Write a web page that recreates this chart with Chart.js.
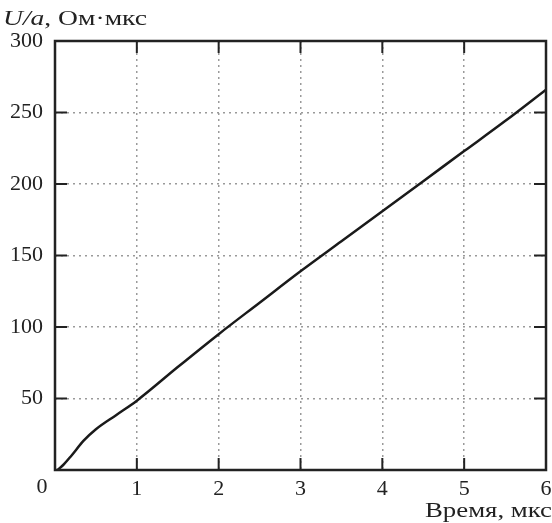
<!DOCTYPE html>
<html>
<head>
<meta charset="utf-8">
<script src="https://cdn.jsdelivr.net/npm/chart.js@4/dist/chart.umd.min.js"></script>
<style>
  html, body { margin: 0; padding: 0; background: #fff; }
  #wrap { width: 552px; height: 523px; position: relative; }
</style>
</head>
<body>
<div id="wrap"><canvas id="chart" width="552" height="523"></canvas></div>
<script>
// U/a versus time curve
const timeUs = [0.03, 0.1, 0.2, 0.35, 0.5, 0.75, 1.0, 1.5, 2.0, 2.5, 3.0, 3.5, 4.0, 4.5, 5.0, 5.5, 6.0];
const uOverA = [0, 3.5, 10, 20.5, 28.5, 38.5, 48.5, 72, 95, 117, 139, 160, 181, 202, 223, 244, 266];
const xTicks = [0, 1, 2, 3, 4, 5, 6];
const yTicks = [0, 50, 100, 150, 200, 250, 300];

const serif = "'Liberation Serif', 'DejaVu Serif', serif";

// text stretched to a given width (the scan's type is wider than Liberation)
function wideText(ctx, parts, x, y, width, align){
  let w = 0;
  for (const p of parts){ ctx.font = p.font; w += ctx.measureText(p.text).width; }
  const k = width / w;
  ctx.save();
  ctx.translate(align === "right" ? x - width : x, y);
  ctx.scale(k, 1);
  ctx.textAlign = "left";
  let cx = 0;
  for (const p of parts){
    ctx.font = p.font;
    ctx.fillText(p.text, cx, 0);
    cx += ctx.measureText(p.text).width;
  }
  ctx.restore();
}

// frame, inward tick marks and the extra labels
const framePlugin = {
  id: "frame",
  afterDraw(chart){
    const { ctx, chartArea: a, scales } = chart;
    ctx.save();
    ctx.strokeStyle = "#222";
    ctx.lineWidth = 2;
    ctx.beginPath();
    for (const v of xTicks.slice(1, -1)){
      const px = scales.x.getPixelForValue(v);
      ctx.moveTo(px, a.bottom); ctx.lineTo(px, a.bottom - 12);
      ctx.moveTo(px, a.top); ctx.lineTo(px, a.top + 12);
    }
    for (const v of yTicks.slice(1, -1)){
      const py = scales.y.getPixelForValue(v);
      ctx.moveTo(a.left, py); ctx.lineTo(a.left + 12, py);
      ctx.moveTo(a.right, py); ctx.lineTo(a.right - 12, py);
    }
    ctx.stroke();
    ctx.lineWidth = 2.5;
    ctx.strokeRect(a.left, a.top, a.right - a.left, a.bottom - a.top);

    ctx.fillStyle = "#222";
    ctx.textBaseline = "alphabetic";
    ctx.font = "22px " + serif;
    ctx.textAlign = "center";
    ctx.fillText("0", a.left - 13, 493);
    wideText(ctx, [{ text: "Время, мкс", font: "22px " + serif }], 552, 517, 127, "right");
    wideText(ctx, [
      { text: "U/a", font: "italic 22px " + serif },
      { text: ", Ом·мкс", font: "22px " + serif }
    ], 3, 25, 144, "left");
    ctx.restore();
  }
};

new Chart(document.getElementById("chart"), {
  type: "line",
  data: {
    datasets: [{
      data: timeUs.map((t, i) => ({ x: t, y: uOverA[i] })),
      borderColor: "#1a1a1a",
      borderWidth: 2.5,
      pointRadius: 0,
      cubicInterpolationMode: "monotone",
      fill: false
    }]
  },
  options: {
    responsive: false,
    animation: false,
    layout: { padding: { top: 41, right: 6, left: 0, bottom: 0 } },
    plugins: { legend: { display: false }, tooltip: { enabled: false } },
    scales: {
      x: {
        type: "linear", min: 0, max: 6,
        afterBuildTicks: s => { s.ticks = xTicks.map(v => ({ value: v })); },
        afterFit: s => { s.height = 53; s.paddingLeft = 0; s.paddingRight = 0; },
        border: { display: false, dash: [2, 4] },
        grid: {
          drawTicks: false,
          color: c => (c.tick.value === 0 || c.tick.value === 6) ? "rgba(0,0,0,0)" : "#9a9a9a",
          lineWidth: 1.5
        },
        ticks: {
          padding: 6,
          color: "#222",
          font: { family: serif, size: 22 },
          callback: v => v === 0 ? "" : String(v)
        }
      },
      y: {
        type: "linear", min: 0, max: 300,
        afterBuildTicks: s => { s.ticks = yTicks.map(v => ({ value: v })); },
        afterFit: s => { s.width = 55; s.paddingTop = 0; s.paddingBottom = 0; },
        border: { display: false, dash: [2, 4] },
        grid: {
          drawTicks: false,
          color: c => (c.tick.value === 0 || c.tick.value === 300) ? "rgba(0,0,0,0)" : "#9a9a9a",
          lineWidth: 1.5
        },
        ticks: {
          padding: 12,
          color: "#222",
          font: { family: serif, size: 22 },
          callback: v => v === 0 ? "" : String(v)
        }
      }
    }
  },
  plugins: [framePlugin]
});
</script>
</body>
</html>
